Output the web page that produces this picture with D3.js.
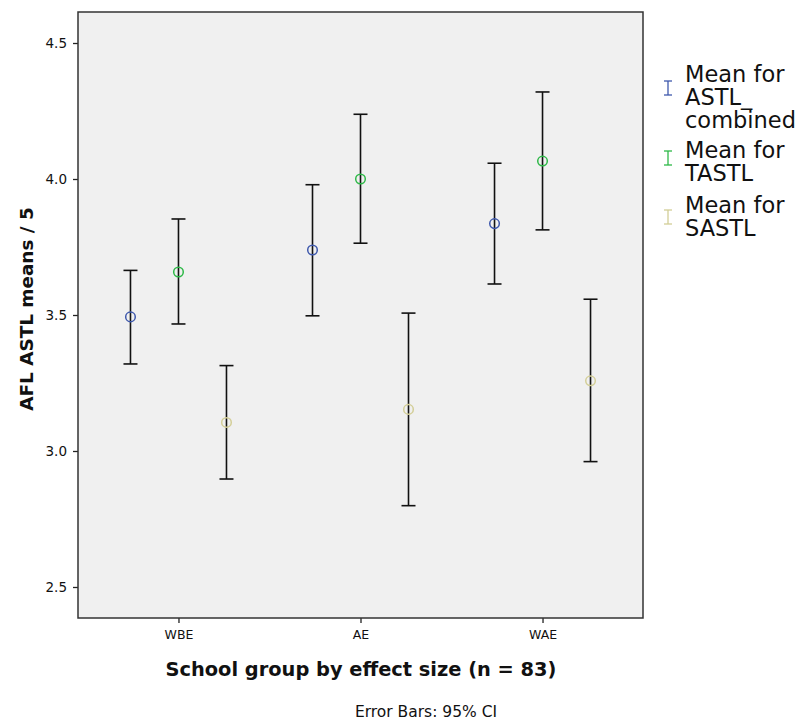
<!DOCTYPE html>
<meta charset="utf-8">
<style>
    body { margin: 0; background: #fff; }
    svg text { font-family: "DejaVu Sans", sans-serif; fill: #111; }
</style>
<svg width="811" height="720"></svg>
<script src="https://cdn.jsdelivr.net/npm/d3@7"></script>
<script>
    // data
    var groups = ["WBE", "AE", "WAE"];
    var seriesNames = ["ASTL_combined", "TASTL", "SASTL"];
    var seriesColors = ["#3e58ac", "#2eb848", "#d3ce97"];
    var astlMean = [3.493, 3.739, 3.836];
    var astlLow  = [3.320, 3.497, 3.614];
    var astlHigh = [3.664, 3.979, 4.058];
    var tastlMean = [3.658, 4.000, 4.066];
    var tastlLow  = [3.467, 3.764, 3.813];
    var tastlHigh = [3.853, 4.238, 4.320];
    var sastlMean = [3.105, 3.153, 3.258];
    var sastlLow  = [2.897, 2.799, 2.961];
    var sastlHigh = [3.314, 3.507, 3.558];
    var yTicks = [2.5, 3.0, 3.5, 4.0, 4.5];

    var series = [
        {name: seriesNames[0], mean: astlMean, low: astlLow, high: astlHigh},
        {name: seriesNames[1], mean: tastlMean, low: tastlLow, high: tastlHigh},
        {name: seriesNames[2], mean: sastlMean, low: sastlLow, high: sastlHigh}
    ];

    var svg = d3.select("svg"),
        margin = {top: 12, left: 78, right: 168, bottom: 102},
        width = +svg.attr("width") - margin.left - margin.right,
        height = +svg.attr("height") - margin.top - margin.bottom;

    var x = d3.scalePoint().domain(groups).range([0, width]).padding(0.552);
    var offset = d3.scalePoint().domain([0, 1, 2]).range([-48, 48]);
    var y = d3.scaleLinear().domain([2.386, 4.614]).range([height, 0]);

    var g = svg.append("g")
        .attr("transform", "translate(" + margin.left + "," + margin.top + ")");

    g.append("rect")
        .attr("width", width).attr("height", height)
        .attr("fill", "#f0f0f0");

    // axes
    var yAxis = g.append("g")
        .call(d3.axisLeft(y).tickValues(yTicks).tickFormat(d3.format(".1f")).tickSize(5).tickPadding(6))
        .attr("font-size", 13.5).attr("font-family", "DejaVu Sans");
    var xAxis = g.append("g")
        .attr("transform", "translate(0," + height + ")")
        .call(d3.axisBottom(x).tickSize(5).tickPadding(7))
        .attr("font-size", 12.5).attr("font-family", "DejaVu Sans");
    [yAxis, xAxis].forEach(function(a) {
        a.select(".domain").remove();
        a.selectAll("line").attr("stroke", "#222").attr("stroke-width", 1.3);
        a.selectAll("text").attr("fill", "#1a1a1a");
    });

    g.append("rect")
        .attr("width", width).attr("height", height)
        .attr("fill", "none").attr("stroke", "#333").attr("stroke-width", 1.5);

    // error bars and means
    series.forEach(function(s, si) {
        var sg = g.append("g");
        groups.forEach(function(grp, i) {
            var cx = x(grp) + offset(si);
            sg.append("line")
                .attr("x1", cx).attr("x2", cx)
                .attr("y1", y(s.low[i])).attr("y2", y(s.high[i]))
                .attr("stroke", "#111").attr("stroke-width", 1.6);
            [s.low[i], s.high[i]].forEach(function(v) {
                sg.append("line")
                    .attr("x1", cx - 7).attr("x2", cx + 7)
                    .attr("y1", y(v)).attr("y2", y(v))
                    .attr("stroke", "#111").attr("stroke-width", 1.6);
            });
            sg.append("circle")
                .attr("cx", cx).attr("cy", y(s.mean[i])).attr("r", 4.8)
                .attr("fill", "none")
                .attr("stroke", seriesColors[si]).attr("stroke-width", 1.5);
        });
    });

    // axis titles
    svg.append("text")
        .attr("transform", "translate(33,309) rotate(-90)")
        .attr("text-anchor", "middle")
        .style("font-size", "18.4px").style("font-weight", "bold")
        .text("AFL ASTL means / 5");

    svg.append("text")
        .attr("x", 361).attr("y", 676)
        .attr("text-anchor", "middle")
        .style("font-size", "19.4px").style("font-weight", "bold")
        .text("School group by effect size (n = 83)");

    svg.append("text")
        .attr("x", 426).attr("y", 717)
        .attr("text-anchor", "middle")
        .style("font-size", "15.5px").attr("fill", "#222")
        .text("Error Bars: 95% CI");

    // legend
    var legendLines = [["Mean for", "ASTL_", "combined"], ["Mean for", "TASTL"], ["Mean for", "SASTL"]];
    var legendTop = [82, 158, 213];
    var legendMark = [88, 158, 217];
    legendLines.forEach(function(lines, i) {
        var lg = svg.append("g");
        var mx = 668, my = legendMark[i];
        lg.append("line").attr("x1", mx).attr("x2", mx).attr("y1", my - 7).attr("y2", my + 7)
            .attr("stroke", seriesColors[i]).attr("stroke-width", 1.3);
        [my - 7, my + 7].forEach(function(yy) {
            lg.append("line").attr("x1", mx - 4).attr("x2", mx + 4).attr("y1", yy).attr("y2", yy)
                .attr("stroke", seriesColors[i]).attr("stroke-width", 1.3);
        });
        var t = lg.append("text")
            .attr("x", 685).attr("y", legendTop[i])
            .style("font-size", "22.5px");
        lines.forEach(function(line, j) {
            t.append("tspan")
                .attr("x", 685).attr("dy", j === 0 ? 0 : 23)
                .text(line);
        });
    });
</script>
